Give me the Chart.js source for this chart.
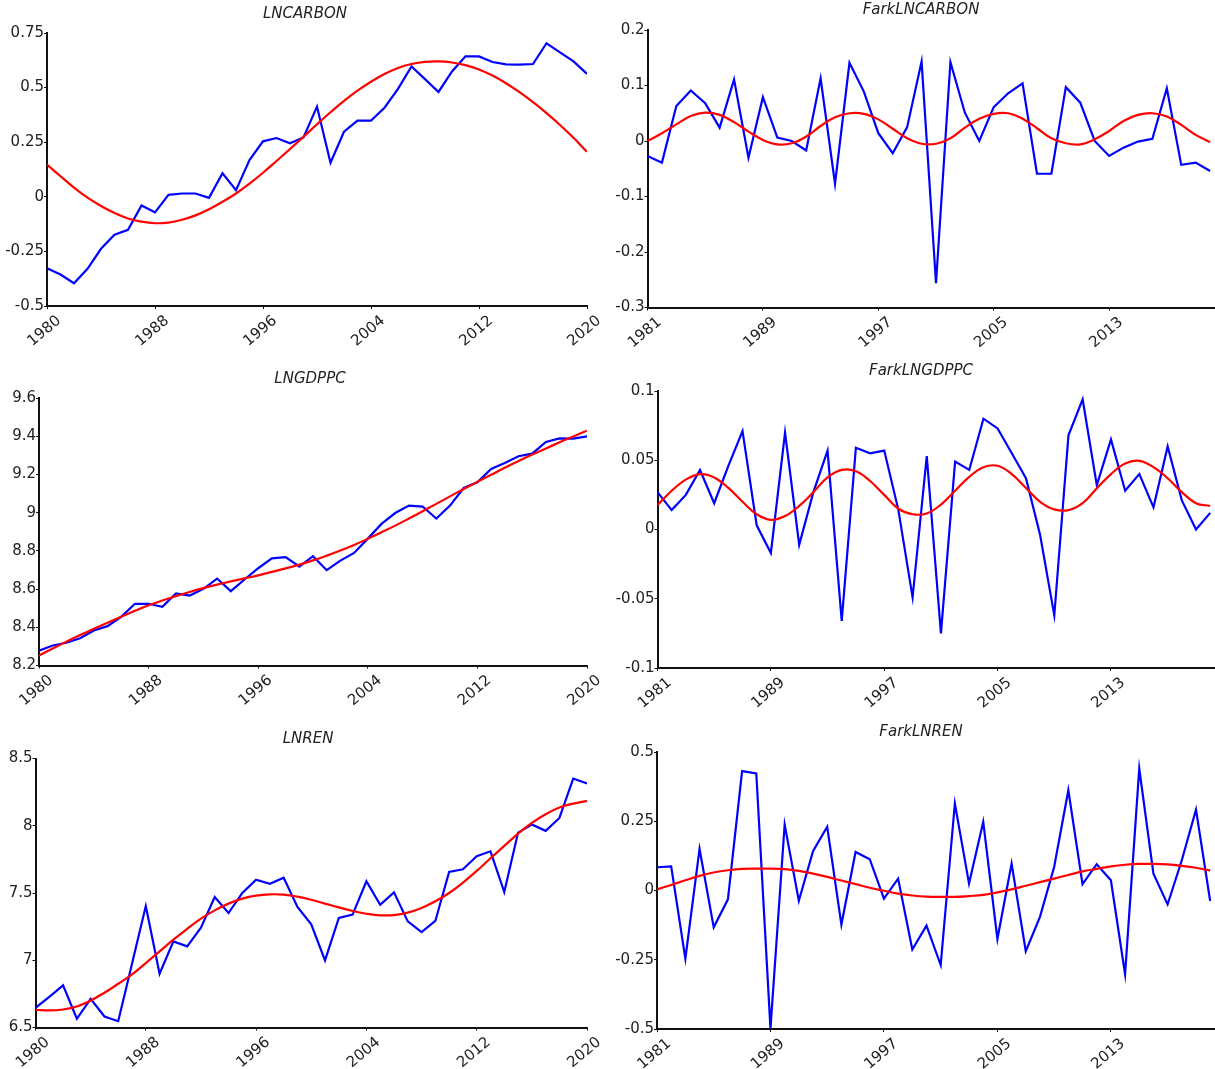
<!DOCTYPE html>
<html><head><meta charset="utf-8">
<script src="https://cdn.jsdelivr.net/npm/chart.js@4.4.0/dist/chart.umd.min.js"></script>
<style>
html,body{margin:0;padding:0;background:#fff;width:1215px;height:1069px;overflow:hidden;}
canvas{position:absolute;}
</style></head><body>
<canvas id="c1"></canvas><canvas id="c2"></canvas><canvas id="c3"></canvas>
<canvas id="c4"></canvas><canvas id="c5"></canvas><canvas id="c6"></canvas>
<script>
// ---------- data ----------
const yearsLevel = [1980,1981,1982,1983,1984,1985,1986,1987,1988,1989,1990,1991,1992,1993,1994,1995,1996,1997,1998,1999,2000,2001,2002,2003,2004,2005,2006,2007,2008,2009,2010,2011,2012,2013,2014,2015,2016,2017,2018,2019,2020];
const yearsDiff = [1981,1982,1983,1984,1985,1986,1987,1988,1989,1990,1991,1992,1993,1994,1995,1996,1997,1998,1999,2000,2001,2002,2003,2004,2005,2006,2007,2008,2009,2010,2011,2012,2013,2014,2015,2016,2017,2018,2019,2020];

const lncarbon = [-0.327,-0.356,-0.396,-0.330,-0.238,-0.174,-0.151,-0.040,-0.071,0.009,0.015,0.015,-0.005,0.108,0.030,0.168,0.254,0.269,0.245,0.272,0.413,0.156,0.298,0.349,0.349,0.408,0.494,0.597,0.539,0.480,0.574,0.643,0.643,0.617,0.606,0.605,0.608,0.703,0.661,0.620,0.563];
const lncarbonFit = [0.148,0.094,0.042,-0.004,-0.042,-0.074,-0.099,-0.114,-0.121,-0.118,-0.105,-0.085,-0.057,-0.023,0.015,0.060,0.110,0.164,0.219,0.275,0.332,0.387,0.439,0.486,0.527,0.562,0.590,0.608,0.618,0.620,0.615,0.603,0.583,0.555,0.520,0.479,0.433,0.383,0.329,0.270,0.206];

const farkLncarbon = [-0.027,-0.039,0.063,0.091,0.068,0.024,0.111,-0.030,0.079,0.006,0.000,-0.017,0.113,-0.077,0.141,0.089,0.014,-0.022,0.025,0.143,-0.256,0.142,0.051,0.000,0.061,0.086,0.104,-0.059,-0.059,0.097,0.069,0.000,-0.027,-0.012,-0.001,0.004,0.095,-0.043,-0.039,-0.054];
const farkLncarbonFit = [0.000,0.014,0.030,0.045,0.051,0.047,0.034,0.017,0.002,-0.006,-0.004,0.008,0.027,0.043,0.050,0.049,0.039,0.022,0.005,-0.005,-0.005,0.005,0.024,0.040,0.049,0.050,0.040,0.023,0.005,-0.004,-0.006,0.003,0.018,0.036,0.047,0.050,0.044,0.029,0.011,-0.002];

const lngdppc = [8.278,8.305,8.319,8.343,8.383,8.406,8.455,8.523,8.523,8.507,8.577,8.566,8.601,8.655,8.589,8.650,8.709,8.761,8.767,8.718,8.772,8.699,8.749,8.789,8.864,8.941,8.998,9.037,9.032,8.969,9.037,9.129,9.159,9.229,9.260,9.295,9.309,9.370,9.389,9.387,9.399];
const lngdppcFit = [8.252,8.289,8.325,8.359,8.392,8.424,8.455,8.486,8.515,8.540,8.563,8.585,8.605,8.623,8.640,8.656,8.672,8.690,8.708,8.728,8.750,8.775,8.802,8.831,8.863,8.897,8.932,8.969,9.007,9.046,9.085,9.124,9.161,9.198,9.235,9.270,9.304,9.336,9.368,9.399,9.429];

const farkLngdppc = [0.027,0.014,0.025,0.043,0.019,0.046,0.071,0.003,-0.017,0.070,-0.011,0.027,0.057,-0.066,0.059,0.055,0.057,0.014,-0.049,0.053,-0.075,0.049,0.043,0.080,0.073,0.055,0.037,-0.004,-0.062,0.068,0.094,0.032,0.065,0.028,0.040,0.016,0.060,0.021,0.000,0.012];
const farkLngdppcFit = [0.0176,0.028,0.036,0.040,0.0376,0.030,0.020,0.011,0.007,0.0097,0.017,0.027,0.0376,0.043,0.042,0.035,0.025,0.015,0.011,0.0116,0.018,0.028,0.038,0.045,0.046,0.040,0.030,0.020,0.0145,0.014,0.019,0.0297,0.040,0.0477,0.0496,0.045,0.037,0.027,0.019,0.017];

const lnren = [6.646,6.728,6.813,6.565,6.713,6.582,6.547,6.974,7.403,6.900,7.140,7.103,7.242,7.470,7.351,7.500,7.599,7.569,7.614,7.396,7.267,6.999,7.314,7.339,7.587,7.413,7.505,7.289,7.210,7.292,7.656,7.676,7.773,7.810,7.507,7.949,8.009,7.962,8.058,8.351,8.314];
const lnrenFit = [6.632,6.627,6.634,6.656,6.701,6.758,6.825,6.895,6.979,7.066,7.153,7.234,7.309,7.371,7.421,7.458,7.480,7.490,7.488,7.473,7.450,7.421,7.393,7.366,7.346,7.334,7.336,7.354,7.388,7.438,7.500,7.577,7.664,7.758,7.850,7.942,8.021,8.086,8.135,8.165,8.185];

const farkLnren = [0.084,0.087,-0.246,0.150,-0.133,-0.032,0.431,0.423,-0.498,0.238,-0.037,0.142,0.230,-0.123,0.139,0.113,-0.029,0.043,-0.213,-0.127,-0.269,0.314,0.025,0.248,-0.175,0.097,-0.219,-0.095,0.085,0.362,0.023,0.095,0.037,-0.302,0.440,0.061,-0.050,0.109,0.292,-0.038];
const farkLnrenFit = [0.004,0.020,0.037,0.053,0.065,0.073,0.078,0.079,0.079,0.077,0.071,0.061,0.049,0.036,0.023,0.010,-0.001,-0.011,-0.018,-0.022,-0.023,-0.023,-0.020,-0.016,-0.007,0.004,0.017,0.030,0.043,0.056,0.069,0.078,0.087,0.093,0.096,0.096,0.094,0.089,0.082,0.072];

// tick labels
const xTicksLevel = [1980,1988,1996,2004,2012,2020];
const xTicksDiff = [1981,1989,1997,2005,2013];
const yTicksLncarbon = [-0.5,-0.25,0,0.25,0.5,0.75];
const yTicksFarkLncarbon = [-0.3,-0.2,-0.1,0,0.1,0.2];
const yTicksLngdppc = [8.2,8.4,8.6,8.8,9,9.2,9.4,9.6];
const yTicksFarkLngdppc = [-0.1,-0.05,0,0.05,0.1];
const yTicksLnren = [6.5,7,7.5,8,8.5];
const yTicksFarkLnren = [-0.5,-0.25,0,0.25,0.5];

const titles = ['LNCARBON','FarkLNCARBON','LNGDPPC','FarkLNGDPPC','LNREN','FarkLNREN'];

// ---------- layout (page pixels) ----------
const panels = [
  {id:'c1', box:[0,0,610,355],     area:[47,33,587,306],      tpos:[305,14],  xs:yearsLevel, a:lncarbon,     f:lncarbonFit,     xt:xTicksLevel, yt:yTicksLncarbon,     xmax:2020},
  {id:'c2', box:[610,0,605,355],   area:[647.5,30,1215,307.5], tpos:[921,10],  xs:yearsDiff,  a:farkLncarbon, f:farkLncarbonFit, xt:xTicksDiff,  yt:yTicksFarkLncarbon, xmax:2020.34},
  {id:'c3', box:[0,355,610,355],   area:[39,398,587,665.5],   tpos:[310,379], xs:yearsLevel, a:lngdppc,      f:lngdppcFit,      xt:xTicksLevel, yt:yTicksLngdppc,      xmax:2020},
  {id:'c4', box:[610,355,605,355], area:[657.5,391,1215,668], tpos:[921,371], xs:yearsDiff,  a:farkLngdppc,  f:farkLngdppcFit,  xt:xTicksDiff,  yt:yTicksFarkLngdppc,  xmax:2020.34},
  {id:'c5', box:[0,710,610,359],   area:[35.5,758.5,587,1027.5], tpos:[308,739], xs:yearsLevel, a:lnren,     f:lnrenFit,        xt:xTicksLevel, yt:yTicksLnren,        xmax:2020},
  {id:'c6', box:[610,710,605,359], area:[657,752,1215,1029],  tpos:[921,732], xs:yearsDiff,  a:farkLnren,    f:farkLnrenFit,    xt:xTicksDiff,  yt:yTicksFarkLnren,    xmax:2020.34}
];

const FONT = 'DejaVu Sans';
const titlePlugin = {
  id: 'panelTitle',
  afterDraw(chart, args, opts) {
    const ctx = chart.ctx;
    ctx.save();
    ctx.font = 'italic 15px "' + FONT + '"';
    ctx.fillStyle = '#222';
    ctx.textAlign = 'center';
    ctx.textBaseline = 'middle';
    ctx.fillText(opts.text, opts.x, opts.y);
    ctx.restore();
  }
};

panels.forEach((p, k) => {
  const cv = document.getElementById(p.id);
  const [bl, bt, bw, bh] = p.box;
  const [al, at, ar, ab] = p.area;
  cv.width = bw; cv.height = bh;
  cv.style.left = bl + 'px'; cv.style.top = bt + 'px';
  cv.style.width = bw + 'px'; cv.style.height = bh + 'px';
  const axisCommon = {
    grid: {drawOnChartArea: false, drawTicks: true, tickLength: 3, color: '#111', lineWidth: 1},
    border: {display: true, color: '#111', width: 2}
  };
  new Chart(cv, {
    type: 'line',
    data: {
      datasets: [
        {data: p.xs.map((x, i) => ({x: x, y: p.a[i]})), borderColor: '#0000ff', borderWidth: 2.2, pointRadius: 0, tension: 0, order: 1},
        {data: p.xs.map((x, i) => ({x: x, y: p.f[i]})), borderColor: '#ff0000', borderWidth: 2.2, pointRadius: 0, tension: 0.4, order: 0}
      ]
    },
    options: {
      responsive: false, animation: false, devicePixelRatio: 1,
      layout: {padding: {left: 0, top: at - bt, right: bl + bw - ar, bottom: 0}},
      plugins: {
        legend: {display: false}, tooltip: {enabled: false}, title: {display: false},
        panelTitle: {text: titles[k], x: p.tpos[0] - bl, y: p.tpos[1] - bt}
      },
      scales: {
        x: Object.assign({}, axisCommon, {
          type: 'linear', min: p.xs[0], max: p.xmax,
          afterBuildTicks: s => { s.ticks = p.xt.map(v => ({value: v})); },
          afterFit: s => { s.height = bt + bh - ab; },
          ticks: {autoSkip: false, maxRotation: 40, minRotation: 40, padding: 3, labelOffset: 12,
                  color: '#222', font: {family: FONT, size: 15}, callback: v => String(v)}
        }),
        y: Object.assign({}, axisCommon, {
          type: 'linear', min: p.yt[0], max: p.yt[p.yt.length - 1],
          afterBuildTicks: s => { s.ticks = p.yt.map(v => ({value: v})); },
          afterFit: s => { s.width = al - bl; },
          ticks: {autoSkip: false, padding: 0, color: '#222', font: {family: FONT, size: 15}, callback: v => String(v)}
        })
      }
    },
    plugins: [titlePlugin]
  });
});
</script>
</body></html>
